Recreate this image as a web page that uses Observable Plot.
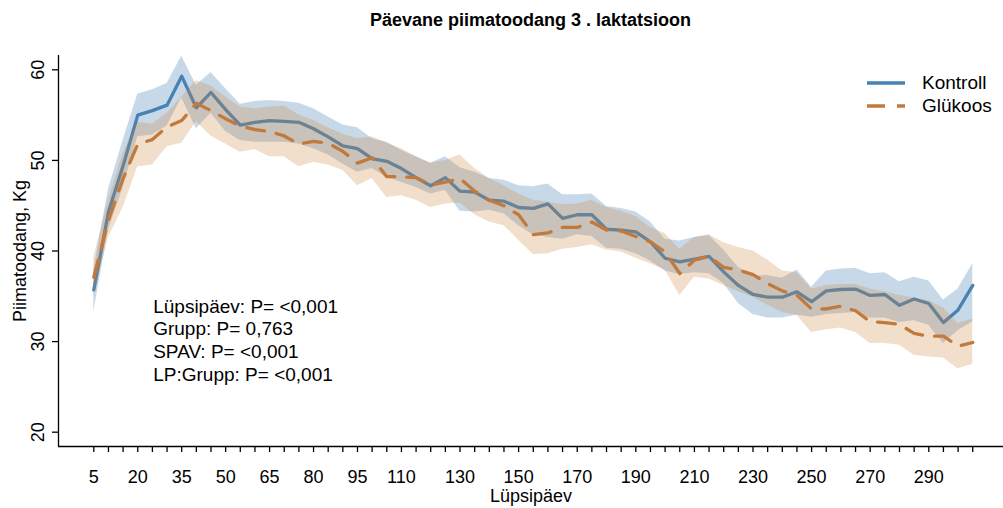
<!DOCTYPE html>
<html>
<head>
<meta charset="utf-8">
<script src="https://cdn.jsdelivr.net/npm/d3@7"></script>
<script src="https://cdn.jsdelivr.net/npm/@observablehq/plot@0.6"></script>
<style>
  html, body { margin: 0; padding: 0; background: #fff; }
  #wrap { position: relative; width: 1003px; height: 508px; font-family: "Liberation Sans", Arial, sans-serif; color: #000; }
  #title { height: 40px; line-height: 40px; text-align: center; font-weight: bold; font-size: 18px; padding-left: 58px; box-sizing: border-box; }
  #legend { position: absolute; left: 867px; top: 71px; font-size: 19px; }
  #legend .row { display: flex; align-items: center; height: 23.5px; }
  #legend svg { margin-right: 17px; }
</style>
</head>
<body>
<div id="wrap">
  <div id="title">Päevane piimatoodang 3 . laktatsioon</div>
  <div id="chart"></div>
  <div id="legend"></div>
</div>
<script>
// ---- data ----
const days = [5,10,15,20,25,30,35,40,45,50,55,60,65,70,75,80,85,90,95,100,
  105,110,115,120,125,130,135,140,145,150,155,160,165,170,175,180,185,190,195,200,
  205,210,215,220,225,230,235,240,245,250,255,260,265,270,275,280,285,290,295,300,305];

const kontroll = [35.7,44.3,49.4,55.0,55.5,56.1,59.3,55.8,57.5,55.6,
  53.9,54.2,54.4,54.3,54.2,53.5,52.6,51.6,51.3,50.2,
  49.9,49.1,48.1,47.2,48.1,46.6,46.5,45.6,45.5,44.8,
  44.7,45.2,43.6,44.0,44.0,42.4,42.3,42.1,41.0,39.2,
  38.8,39.1,39.4,37.7,36.2,35.2,34.9,34.9,35.5,34.4,
  35.6,35.75,35.8,35.1,35.2,34.0,34.7,34.2,32.1,33.5,36.2];
const kontrollLo = [33.3,42.3,47.0,52.6,52.8,53.8,56.9,53.5,55.2,53.2,
  52.2,52.0,52.0,52.0,51.8,51.3,50.6,49.6,48.7,49.1,
  48.1,47.6,47.0,46.3,46.7,44.4,44.3,44.5,44.1,42.8,
  41.8,41.5,41.3,41.8,41.6,40.3,40.2,39.7,38.9,37.8,
  37.4,37.6,37.5,36.4,34.2,33.0,32.6,32.6,32.9,32.7,
  33.0,33.1,33.2,32.6,32.6,32.1,32.3,31.8,29.8,31.2,32.2];
const kontrollHi = [38.0,46.8,52.2,57.3,57.8,58.5,61.5,58.3,59.7,57.9,
  56.2,56.5,56.6,56.5,56.3,55.7,54.8,53.9,53.6,52.4,
  52.0,51.1,50.4,49.7,50.4,49.2,48.7,48.0,47.8,47.2,
  47.1,47.4,46.2,46.2,46.3,44.9,44.7,44.3,43.2,41.3,
  41.1,41.5,41.7,40.1,38.2,37.2,37.3,37.0,37.9,36.0,
  37.8,38.0,38.1,37.5,37.6,36.6,37.1,36.7,34.6,35.8,38.6];

const glukoos = [37.1,43.4,48.0,51.8,52.3,53.7,54.4,56.3,55.5,54.6,
  53.8,53.4,53.2,52.7,51.8,52.1,51.9,51.0,49.7,50.3,
  48.2,48.2,48.1,47.3,47.6,48.0,46.6,45.6,45.0,44.0,
  41.8,42.0,42.6,42.6,43.2,42.3,42.2,41.6,41.0,39.9,
  37.5,39.0,39.4,38.2,37.9,37.4,36.4,35.6,35.1,33.6,
  33.6,33.9,33.4,32.2,32.1,31.9,30.9,30.6,30.6,29.5,29.9];
const glukoosLo = [35.0,41.5,44.8,49.3,49.5,51.5,51.9,54.3,52.7,51.8,
  50.9,51.2,50.4,50.4,49.3,49.8,49.5,48.9,47.2,48.0,
  45.9,46.1,45.6,44.8,45.2,45.3,44.0,43.2,42.8,41.2,
  39.6,39.7,40.2,40.4,40.7,40.1,39.9,39.2,38.6,37.9,
  35.1,37.1,36.9,36.2,35.5,34.9,34.0,33.2,32.9,31.0,
  31.3,31.5,31.0,29.8,29.8,29.6,28.5,28.3,28.2,27.0,27.5];
const glukoosHi = [39.3,45.6,50.8,54.2,54.0,55.2,57.0,58.8,58.2,57.0,
  55.9,55.7,55.9,56.0,55.0,54.4,53.6,52.9,52.4,52.6,
  51.9,51.3,50.4,49.7,50.0,50.6,49.1,48.0,47.2,46.3,
  45.6,45.4,45.1,45.2,45.6,44.8,44.4,43.8,42.6,41.9,
  40.2,41.5,41.8,40.9,40.4,40.0,39.0,37.8,37.6,35.8,
  36.2,36.3,36.3,35.8,35.5,35.1,34.8,34.5,33.7,32.0,32.5];

const xLabels = [5,20,35,50,65,80,95,110,130,150,170,190,210,230,250,270,290];
const yTicks = [20,30,40,50,60];
const groups = ["Kontroll", "Glükoos"];
const annotation = ["Lüpsipäev: P= <0,001", "Grupp: P= 0,763", "SPAV: P= <0,001", "LP:Grupp: P= <0,001"];
const xTitle = "Lüpsipäev";
const yTitle = "Piimatoodang, Kg";

// ---- styles ----
const colors = {Kontroll: "#4682b4", "Glükoos": "#c27a3c"};
const fills = {Kontroll: "#4682b4", "Glükoos": "#cd853f"};
const fillOp = {Kontroll: 0.3, "Glükoos": 0.27};
const dash = {Kontroll: null, "Glükoos": "18,12"};
const font = '"Liberation Sans", Arial, sans-serif';

const kData = days.map((d, i) => ({day: d, y: kontroll[i], lo: kontrollLo[i], hi: kontrollHi[i]}));
const gData = days.map((d, i) => ({day: d, y: glukoos[i], lo: glukoosLo[i], hi: glukoosHi[i]}));

const xDomain = [-7.05, 315.5];
const yDomain = [18.42, 61.58];
const labelSet = new Set(xLabels);

const chart = Plot.plot({
  width: 1003,
  height: 468,
  marginLeft: 58,
  marginRight: 0,
  marginTop: 15,
  marginBottom: 62,
  style: {fontFamily: font, fontSize: "18px", color: "#000", background: "#fff"},
  x: {domain: xDomain},
  y: {domain: yDomain},
  marks: [
    Plot.areaY(kData, {x: "day", y1: "lo", y2: "hi", fill: fills.Kontroll, fillOpacity: fillOp.Kontroll}),
    Plot.lineY(kData, {x: "day", y: "y", stroke: colors.Kontroll, strokeWidth: 3.3}),
    Plot.areaY(gData, {x: "day", y1: "lo", y2: "hi", fill: fills["Glükoos"], fillOpacity: fillOp["Glükoos"]}),
    Plot.lineY(gData, {x: "day", y: "y", stroke: colors["Glükoos"], strokeWidth: 3.3, strokeDasharray: dash["Glükoos"]}),
    Plot.ruleX([xDomain[0]], {stroke: "#000", strokeWidth: 1.3}),
    Plot.ruleY([yDomain[0]], {stroke: "#000", strokeWidth: 1.3}),
    Plot.axisX({ticks: days, tickSize: 6, tickPadding: 18, tickFormat: d => labelSet.has(d) ? String(d) : "", label: null, fontSize: 18, stroke: "#000", strokeWidth: 1.3}),
    Plot.axisY({ticks: yTicks, tickSize: 6, tickFormat: () => "", label: null, stroke: "#000", strokeWidth: 1.3}),
    Plot.text(yTicks, {y: d => d, text: d => String(d), frameAnchor: "left", dx: -20, rotate: -90, textAnchor: "middle", lineAnchor: "middle", fontSize: 18}),
    Plot.text([yTitle], {frameAnchor: "left", dx: -38, rotate: -90, textAnchor: "middle", lineAnchor: "middle", fontSize: 18}),
    Plot.text([xTitle], {frameAnchor: "bottom", dy: 50, textAnchor: "middle", lineAnchor: "middle", fontSize: 18}),
    Plot.text([annotation.join("\n")], {frameAnchor: "top-left", dx: 94.7, dy: 284, textAnchor: "start", lineAnchor: "middle", lineHeight: 1.195, fontSize: 19})
  ]
});
document.getElementById("chart").appendChild(chart);

// legend
const legend = document.getElementById("legend");
groups.forEach(g => {
  const row = document.createElement("div");
  row.className = "row";
  const ns = "http://www.w3.org/2000/svg";
  const s = document.createElementNS(ns, "svg");
  s.setAttribute("width", 38); s.setAttribute("height", 10);
  const l = document.createElementNS(ns, "line");
  l.setAttribute("x1", 0); l.setAttribute("x2", 38); l.setAttribute("y1", 5); l.setAttribute("y2", 5);
  l.setAttribute("stroke", colors[g]); l.setAttribute("stroke-width", 3.5);
  if (dash[g]) l.setAttribute("stroke-dasharray", dash[g]);
  s.appendChild(l);
  const t = document.createElement("span");
  t.textContent = g;
  row.appendChild(s); row.appendChild(t);
  legend.appendChild(row);
});
</script>
</body>
</html>
